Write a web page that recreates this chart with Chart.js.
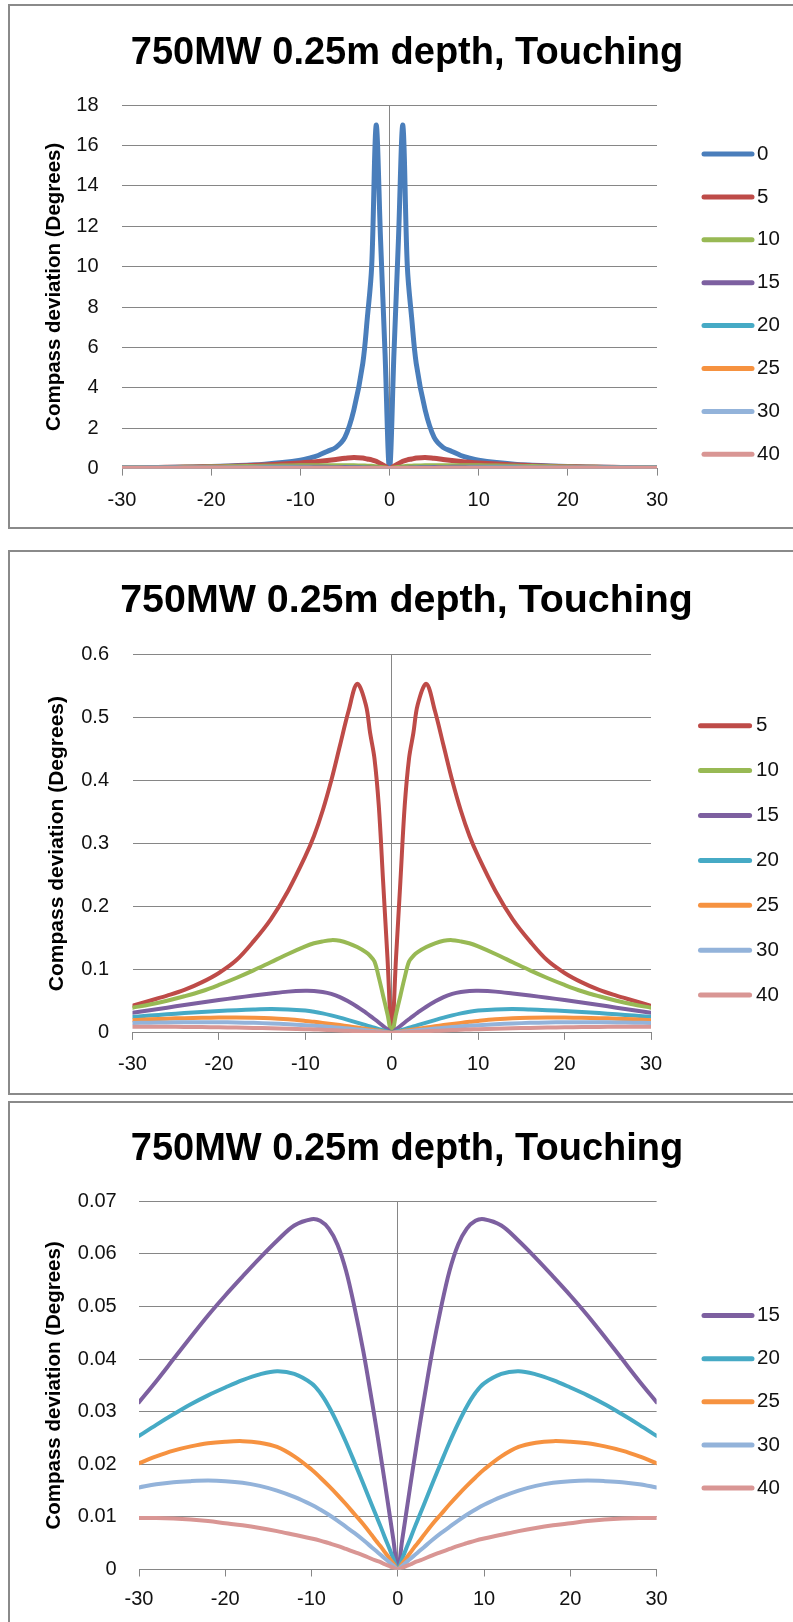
<!DOCTYPE html>
<html>
<head>
<meta charset="utf-8">
<script src="https://cdn.jsdelivr.net/npm/chart.js@4.4.0/dist/chart.umd.min.js"></script>
<style>
  html, body { margin: 0; padding: 0; background: #fff; overflow: hidden; }
  body { width: 793px; height: 1622px; position: relative; }
  .frame { position: absolute; left: 8px; width: 820px; border: 2px solid #8a8a8a; box-sizing: border-box; }
  canvas { position: absolute; left: 0; }
</style>
</head>
<body>
<div class="frame" style="top:4px;height:525px"></div>
<div class="frame" style="top:550px;height:545px"></div>
<div class="frame" style="top:1101px;height:600px"></div>
<canvas id="c1" width="793" height="530" style="top:0px"></canvas>
<canvas id="c2" width="793" height="543" style="top:551px"></canvas>
<canvas id="c3" width="793" height="520" style="top:1102px"></canvas>
<script>
// horizontal offset from the cable (x) and deviation per burial offset
var offsets = [-30,-28,-26,-24,-22,-20,-18,-16,-14,-12,-10,-9,-8,-7,-6,-5,-4,-3,-2.5,-2,-1.5,-1,-0.5,0,
               0.5,1,1.5,2,2.5,3,4,5,6,7,8,9,10,12,14,16,18,20,22,24,26,28,30];

var dev0 = [0.04,0.045,0.055,0.065,0.08,0.10,0.13,0.17,0.22,0.30,0.42,0.52,0.65,0.85,1.05,1.55,2.9,5.2,7.4,10.0,17.0,11.3,5.7,0,
            5.7,11.3,17.0,10.0,7.4,5.2,2.9,1.55,1.05,0.85,0.65,0.52,0.42,0.30,0.22,0.17,0.13,0.10,0.08,0.065,0.055,0.045,0.04];
var dev5 = [0.043,0.051,0.059,0.068,0.080,0.095,0.115,0.145,0.180,0.225,0.280,0.312,0.352,0.400,0.455,0.510,0.553,0.520,0.475,0.435,0.360,0.240,0.120,0,
            0.120,0.240,0.360,0.435,0.475,0.520,0.553,0.510,0.455,0.400,0.352,0.312,0.280,0.225,0.180,0.145,0.115,0.095,0.080,0.068,0.059,0.051,0.043];
var dev10 = [0.040,0.045,0.051,0.058,0.066,0.076,0.087,0.099,0.112,0.125,0.137,0.142,0.145,0.147,0.146,0.142,0.136,0.128,0.122,0.113,0.088,0.059,0.030,0,
             0.030,0.059,0.088,0.113,0.122,0.128,0.136,0.142,0.146,0.147,0.145,0.142,0.137,0.125,0.112,0.099,0.087,0.076,0.066,0.058,0.051,0.045,0.040];
var dev15 = [0.0318,0.0358,0.0400,0.0442,0.0483,0.0521,0.0557,0.0592,0.0625,0.0654,0.0666,0.0663,0.0648,0.0618,0.0568,0.0497,0.0415,0.0320,0.0270,0.0218,0.0165,0.0110,0.0055,0,
             0.0055,0.0110,0.0165,0.0218,0.0270,0.0320,0.0415,0.0497,0.0568,0.0618,0.0648,0.0663,0.0666,0.0654,0.0625,0.0592,0.0557,0.0521,0.0483,0.0442,0.0400,0.0358,0.0318];
var dev20 = [0.0254,0.0275,0.0295,0.0314,0.0331,0.0346,0.0360,0.0371,0.0377,0.0372,0.0354,0.0336,0.0310,0.0278,0.0242,0.0203,0.0163,0.0122,0.0102,0.0082,0.0061,0.0041,0.0020,0,
             0.0020,0.0041,0.0061,0.0082,0.0102,0.0122,0.0163,0.0203,0.0242,0.0278,0.0310,0.0336,0.0354,0.0372,0.0377,0.0371,0.0360,0.0346,0.0331,0.0314,0.0295,0.0275,0.0254];
var dev25 = [0.0202,0.0215,0.0226,0.0234,0.0240,0.0243,0.0244,0.0241,0.0233,0.0215,0.0190,0.0175,0.0159,0.0142,0.0124,0.0105,0.0086,0.0065,0.0054,0.0044,0.0033,0.0022,0.0011,0,
             0.0011,0.0022,0.0033,0.0044,0.0054,0.0065,0.0086,0.0105,0.0124,0.0142,0.0159,0.0175,0.0190,0.0215,0.0233,0.0241,0.0244,0.0243,0.0240,0.0234,0.0226,0.0215,0.0202];
var dev30 = [0.0156,0.0162,0.0166,0.0168,0.0169,0.0168,0.0165,0.0159,0.0150,0.0138,0.0123,0.0114,0.0104,0.0093,0.0081,0.0069,0.0056,0.0042,0.0035,0.0028,0.0021,0.0014,0.0007,0,
             0.0007,0.0014,0.0021,0.0028,0.0035,0.0042,0.0056,0.0069,0.0081,0.0093,0.0104,0.0114,0.0123,0.0138,0.0150,0.0159,0.0165,0.0168,0.0169,0.0168,0.0166,0.0162,0.0156];
var dev40 = [0.0098,0.0098,0.0097,0.0095,0.0092,0.0088,0.0084,0.0079,0.0073,0.0066,0.0059,0.0055,0.0050,0.0045,0.0039,0.0033,0.0027,0.0020,0.0017,0.0014,0.0010,0.0007,0.0003,0,
             0.0003,0.0007,0.0010,0.0014,0.0017,0.0020,0.0027,0.0033,0.0039,0.0045,0.0050,0.0055,0.0059,0.0066,0.0073,0.0079,0.0084,0.0088,0.0092,0.0095,0.0097,0.0098,0.0098];

var seriesNames = ['0', '5', '10', '15', '20', '25', '30', '40'];
var seriesData = [dev0, dev5, dev10, dev15, dev20, dev25, dev30, dev40];
var seriesColors = ['#4a7ebb', '#be4b48', '#98b954', '#7d60a0', '#46aac5', '#f69240', '#93b3da', '#d99694'];

var chartTitle = '750MW 0.25m depth, Touching';
var yTitle = 'Compass deviation (Degrees)';

Chart.defaults.font.family = "'Liberation Sans', Arial, sans-serif";
Chart.defaults.color = '#111';

// legend drawn as short thick line + label, one row per series
var lineLegend = {
  id: 'lineLegend',
  afterDraw: function (chart, args, o) {
    var ctx = chart.ctx;
    ctx.save();
    ctx.font = o.size + "px 'Liberation Sans', Arial, sans-serif";
    ctx.textBaseline = 'middle';
    ctx.lineCap = 'round';
    chart.data.datasets.forEach(function (ds, i) {
      var y = o.top + i * o.step;
      ctx.strokeStyle = ds.borderColor;
      ctx.lineWidth = o.width;
      ctx.beginPath();
      ctx.moveTo(o.x0, y);
      ctx.lineTo(o.x1, y);
      ctx.stroke();
      ctx.fillStyle = '#111';
      ctx.fillText(ds.label, o.textX, y);
    });
    ctx.restore();
  }
};

function fmt(v) { return String(+v.toFixed(3)); }

function makeChart(id, which, g) {
  var datasets = which.map(function (s, i) {
    return {
      label: seriesNames[s],
      data: offsets.map(function (x, k) { return {x: x, y: seriesData[s][k]}; }),
      borderColor: seriesColors[s],
      backgroundColor: seriesColors[s],
      borderWidth: g.lineW,
      borderCapStyle: 'round',
      borderJoinStyle: 'round',
      tension: 0.35,
      pointRadius: 0,
      yAxisID: 'y',
      order: -i
    };
  });

  return new Chart(document.getElementById(id), {
    type: 'line',
    data: {datasets: datasets},
    plugins: [lineLegend],
    options: {
      responsive: false,
      animation: false,
      devicePixelRatio: 1,
      events: [],
      layout: {padding: {left: g.left, right: 0, top: 0, bottom: 0}},
      plugins: {
        legend: {display: false},
        tooltip: {enabled: false},
        title: {
          display: true,
          text: chartTitle,
          color: '#000',
          font: {size: g.titleSize, weight: 'bold'},
          padding: {top: g.titleTop, bottom: g.titleBottom}
        },
        lineLegend: g.legend
      },
      scales: {
        x: {
          type: 'linear',
          min: -30, max: 30,
          ticks: {stepSize: 10, padding: g.xTickPad, font: {size: 20}, color: '#111', maxRotation: 0},
          grid: {
            color: function (c) { return c.tick && c.tick.value === 0 ? '#868686' : 'rgba(0,0,0,0)'; },
            tickColor: '#868686',
            tickLength: 7,
            lineWidth: 1
          },
          border: {display: true, color: '#868686', width: 1},
          afterFit: function (s) { s.height = g.xH; }
        },
        y: {
          type: 'linear',
          position: 'left',
          min: 0, max: g.yMax,
          ticks: {stepSize: g.yStep, padding: g.yTickPad, font: {size: 20}, color: '#111', callback: fmt},
          grid: {color: '#868686', drawTicks: false, lineWidth: 1},
          border: {display: false},
          title: {
            display: true,
            text: yTitle,
            color: '#000',
            font: {size: g.yTitleSize, weight: 'bold'},
            padding: {top: g.yTitleTop, bottom: 0}
          },
          afterFit: function (s) { s.width = g.yW; }
        },
        gap: {
          type: 'linear',
          position: 'right',
          display: true,
          grid: {display: false, drawTicks: false},
          border: {display: false},
          ticks: {display: false},
          afterFit: function (s) { s.width = g.gap; }
        }
      }
    }
  });
}

makeChart('c1', [0, 1, 2, 3, 4, 5, 6, 7], {
  left: 21, yW: 101, gap: 136, xH: 61.4,
  titleSize: 38, titleTop: 30.9, titleBottom: 28.5,
  yTitleSize: 20.5, yTitleTop: 21.3, yTickPad: 23.4, xTickPad: 12.4,
  yMax: 18, yStep: 2, lineW: 5,
  legend: {top: 154, step: 42.9, x0: 704, x1: 752, textX: 757, width: 5, size: 20.5}
});

makeChart('c2', [1, 2, 3, 4, 5, 6, 7], {
  left: 20, yW: 112.5, gap: 142, xH: 61.1,
  titleSize: 39.4, titleTop: 26.4, titleBottom: 29.6,
  yTitleSize: 21, yTitleTop: 24.4, yTickPad: 23.5, xTickPad: 13,
  yMax: 0.6, yStep: 0.1, lineW: 4,
  legend: {top: 174.7, step: 44.9, x0: 700.5, x1: 749.6, textX: 756, width: 5, size: 20.5}
});

makeChart('c3', [3, 4, 5, 6, 7], {
  left: 21, yW: 118, gap: 136.4, xH: 52.5,
  titleSize: 38, titleTop: 24.9, titleBottom: 28.8,
  yTitleSize: 20.5, yTitleTop: 21.3, yTickPad: 22.3, xTickPad: 10.5,
  yMax: 0.07, yStep: 0.01, lineW: 4,
  legend: {top: 213.6, step: 43.1, x0: 704, x1: 752, textX: 757, width: 5, size: 20.5}
});
</script>
</body>
</html>
